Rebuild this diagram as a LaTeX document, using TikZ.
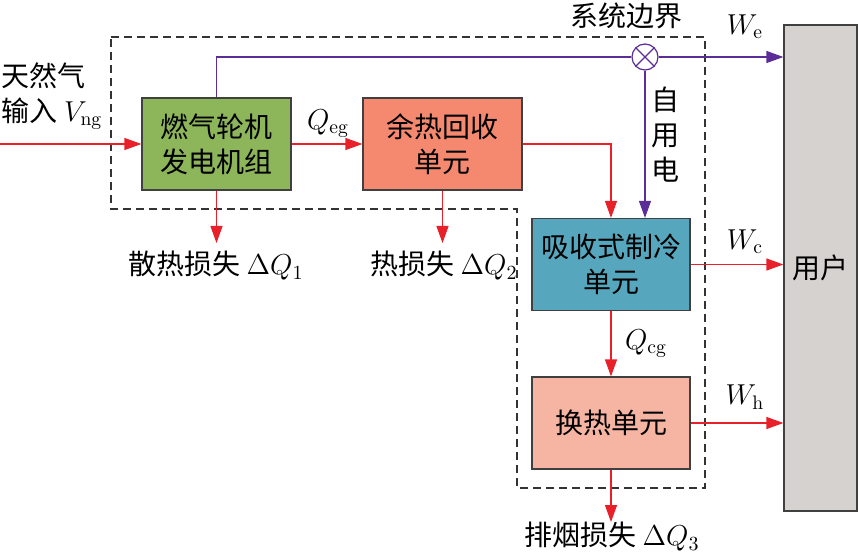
\documentclass[tikz,border=0pt]{standalone}
\usepackage{fontspec}
\newfontfamily\cjk{Noto Sans CJK SC}
\usetikzlibrary{arrows.meta}

\definecolor{hotred}{RGB}{232,32,42}
\definecolor{elecpurple}{RGB}{92,45,150}
\definecolor{gtgreen}{RGB}{141,181,90}
\definecolor{hrsalmon}{RGB}{244,137,112}
\definecolor{acteal}{RGB}{86,167,189}
\definecolor{hepink}{RGB}{246,180,162}
\definecolor{usergray}{RGB}{214,210,207}

\tikzset{
  unit/.style={draw=black!75, line width=0.6pt, minimum height=46pt,
    align=center, inner sep=0pt, font=\cjk\fontsize{14}{17.5}\selectfont},
  heat/.style={draw=hotred, line width=0.6pt, -{Triangle[length=8.5pt,width=6pt]}},
  elec/.style={draw=elecpurple, line width=0.6pt, -{Triangle[length=8.5pt,width=6pt]}},
  lab/.style={font=\cjk\fontsize{14}{17.5}\selectfont, inner sep=0pt},
  boundary/.style={draw=black!80, line width=0.6pt, dash pattern=on 4pt off 2.5pt},
}

\begin{document}
\begin{tikzpicture}[x=0.5pt, y=-0.5pt]
\useasboundingbox (0,0) rectangle (858,556);

% system boundary
\draw[boundary] (111,37)--(705,37)--(705,488)--(517,488)--(517,209)--(111,209)--cycle;
\node[lab] (bound) at (626,16) {系统边界};

% units
\node[unit, fill=gtgreen, minimum width=74.5pt] (gt) at (216.5,144) {燃气轮机\\发电机组};
\node[unit, fill=hrsalmon, minimum width=79.5pt] (hr) at (442.5,144) {余热回收\\单元};
\node[unit, fill=acteal, minimum width=79pt] (ac) at (611,264.5) {吸收式制冷\\单元};
\node[unit, fill=hepink, minimum width=79pt] (he) at (611,423) {换热单元};
\node[unit, fill=usergray, minimum width=36.5pt, minimum height=243pt] (user) at (820.5,268) {用户};
\node[draw=elecpurple, line width=0.6pt, fill=white, circle, minimum size=13pt, inner sep=0pt] (mix) at (645,57) {};
\draw[elecpurple, line width=0.6pt] (mix.north west)--(mix.south east) (mix.north east)--(mix.south west);

% free ends
\coordinate (in) at (0,144);
\coordinate (loss1) at (216.5,243);
\coordinate (loss2) at (442.5,243);
\coordinate (loss3) at (611,522);

% heat flows
\draw[heat] (in)--(gt.west);
\draw[heat] (gt.east)--(hr.west);
\draw[heat] (hr.east)-|(ac.north);
\draw[heat] (ac.south)--(he.north);
\draw[heat] (gt.south)--(loss1);
\draw[heat] (hr.south)--(loss2);
\draw[heat] (he.south)--(loss3);
\draw[heat] (ac.east)--(ac.east -| user.west);
\draw[heat] (he.east)--(he.east -| user.west);

% electricity
\draw[elecpurple, line width=0.6pt] (gt.north)|-(mix.west);
\draw[elec] (mix.east)--(mix.east -| user.west);
\draw[elec] (mix.south)--(mix.south |- ac.north);

% labels
\node[lab, align=left] (gas) at (52,96) {天然气\\输入 $V_{\mathrm{ng}}$};
\node[lab] (qeg) at (328,124) {$Q_{\mathrm{eg}}$};
\node[lab] (qcg) at (646,344) {$Q_{\mathrm{cg}}$};
\node[lab] (we) at (745,27) {$W_{\mathrm{e}}$};
\node[lab] (wc) at (745,242) {$W_{\mathrm{c}}$};
\node[lab] (wh) at (745,397) {$W_{\mathrm{h}}$};
\node[lab, align=center] (self) at (665,135) {自\\用\\电};
\node[lab] (dq1) at (216,266) {散热损失 $\Delta Q_1$};
\node[lab] (dq2) at (444,266) {热损失 $\Delta Q_2$};
\node[lab] (dq3) at (612,537) {排烟损失 $\Delta Q_3$};

\end{tikzpicture}
\end{document}
